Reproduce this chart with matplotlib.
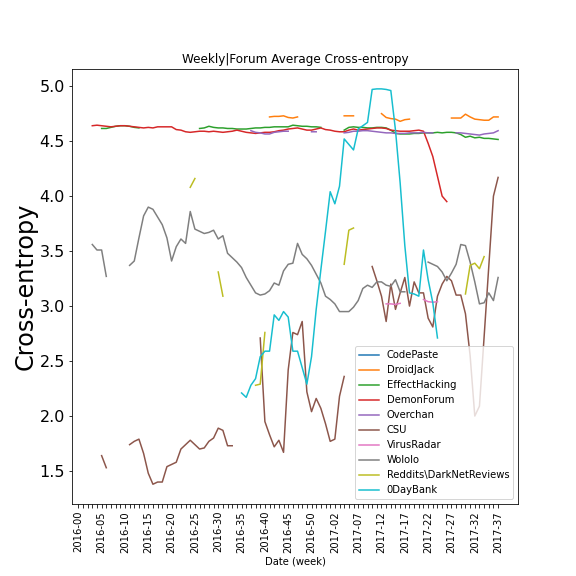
import matplotlib
matplotlib.use('Agg')
import matplotlib.pyplot as plt
import numpy as np

nan = np.nan

# x axis: one slot per week
WEEKS = ['2016-%02d' % w for w in range(53)] + ['2017-%02d' % w for w in range(38)]

FORUMS = ['CodePaste', 'DroidJack', 'EffectHacking', 'DemonForum', 'Overchan',
          'CSU', 'VirusRadar', 'Wololo', 'Reddits\\DarkNetReviews', '0DayBank']

# each series: list of (first week index, values)
codepaste = []

droidjack = [
    (41, [4.72, 4.725, 4.725, 4.73, 4.715, 4.71, 4.72]),
    (57, [4.73, 4.73, 4.73]),
    (65, [4.75, 4.715, 4.705, 4.70, 4.68, 4.695, 4.70]),
    (80, [4.71, 4.71, 4.71, 4.745, 4.72, 4.70, 4.695, 4.69, 4.69, 4.72, 4.72]),
]

effecthacking = [
    (5, [4.615, 4.615, 4.625, 4.635, 4.64, 4.64, 4.635, 4.625, 4.62]),
    (26, [4.615, 4.62, 4.635, 4.625, 4.62, 4.62, 4.615, 4.615, 4.61, 4.61,
          4.61, 4.615, 4.62, 4.62, 4.625, 4.625, 4.63, 4.63, 4.63, 4.63,
          4.645, 4.64, 4.635, 4.635, 4.63, 4.63, 4.625]),
    (57, [4.60, 4.625, 4.63, 4.625, 4.625, 4.62, 4.62, 4.625, 4.625, 4.62,
          4.60, 4.57, 4.565, 4.565, 4.565, 4.57, 4.57, 4.575, 4.575, 4.575,
          4.58, 4.575, 4.58, 4.58, 4.575, 4.56, 4.535, 4.545, 4.53, 4.535,
          4.525, 4.525, 4.52, 4.515]),
]

demonforum = [
    (3, [4.64, 4.645, 4.64, 4.635, 4.63, 4.635, 4.64, 4.64, 4.635, 4.63,
         4.625, 4.62, 4.625, 4.62, 4.63, 4.63, 4.63, 4.63, 4.605, 4.60,
         4.585, 4.58, 4.585, 4.59, 4.59, 4.585, 4.59, 4.585, 4.58, 4.585,
         4.59, 4.60, 4.59, 4.58, 4.575, 4.57, 4.575, 4.58, 4.58, 4.585,
         4.595, 4.60, 4.61, 4.615, 4.62, 4.61, 4.60, 4.60, 4.61, 4.62,
         4.605, 4.60, 4.59, 4.585, 4.585, 4.60, 4.61, 4.60, 4.605, 4.61,
         4.615, 4.62, 4.62, 4.615, 4.60, 4.595, 4.59, 4.59, 4.59, 4.595,
         4.60, 4.59, 4.48, 4.36, 4.18, 4.00, 3.95]),
]

overchan = [
    (37, [4.595, 4.58, 4.575, 4.565, 4.565, 4.58, 4.585, 4.59, 4.59]),
    (50, [4.585, 4.585]),
    (57, [4.575, 4.58, 4.59, 4.59, 4.595, 4.595, 4.59, 4.585, 4.58, 4.575,
          4.575, 4.57, 4.57, 4.57, 4.575, 4.575, 4.575, 4.58, 4.575, 4.575]),
    (81, [4.575, 4.575, 4.57, 4.565, 4.56, 4.555, 4.565, 4.57, 4.575, 4.595]),
]

csu = [
    (5, [1.64, 1.53]),
    (11, [1.74, 1.77, 1.79, 1.66, 1.48, 1.38, 1.40, 1.40, 1.54, 1.56,
          1.58, 1.70, 1.74, 1.78, 1.74, 1.70, 1.71, 1.77, 1.80, 1.89,
          1.87, 1.73, 1.73]),
    (39, [2.71, 1.95, 1.83, 1.72, 1.78, 1.67, 2.42, 2.76, 2.74, 2.86,
          2.22, 2.04, 2.16, 2.07, 1.93, 1.77, 1.79, 2.18, 2.36]),
    (63, [3.36, 3.23, 3.09, 2.86, 3.20, 2.97, 3.12, 3.26, 3.00, 3.22,
          3.12, 3.12, 2.89, 2.81, 3.09, 3.20, 3.27, 3.23, 3.10, 3.10,
          2.93, 2.55, 2.00, 2.09, 2.72, 3.36, 4.00, 4.17]),
]

virusradar = [
    (66, [3.02, 3.02, 3.015, 3.025]),
    (74, [3.06, 3.04, 3.035, 3.04]),
]

wololo = [
    (3, [3.56, 3.51, 3.51, 3.27]),
    (11, [3.37, 3.41, 3.62, 3.82, 3.90, 3.88, 3.81, 3.74, 3.62, 3.41,
          3.54, 3.61, 3.57, 3.86, 3.70, 3.68, 3.66, 3.67, 3.69, 3.61,
          3.64, 3.48, 3.44, 3.40, 3.35, 3.26, 3.19, 3.12, 3.10, 3.11,
          3.14, 3.21, 3.19, 3.32, 3.38, 3.39, 3.57, 3.47, 3.43, 3.37,
          3.29, 3.21, 3.09, 3.06, 3.02, 2.95, 2.95, 2.95, 2.99, 3.05,
          3.16, 3.19, 3.17, 3.22, 3.22, 3.19, 3.18, 3.24, 3.13, 3.13]),
    (75, [3.40, 3.38, 3.36, 3.31, 3.23, 3.30, 3.38, 3.56, 3.55, 3.40,
          3.22, 3.02, 3.03, 3.12, 3.05, 3.26]),
]

darknetreviews = [
    (24, [4.08, 4.16]),
    (30, [3.31, 3.09]),
    (38, [2.28, 2.29, 2.76]),
    (57, [3.38, 3.69, 3.71]),
    (83, [3.11, 3.37, 3.39, 3.34, 3.45]),
]

odaybank = [
    (35, [2.21, 2.17, 2.28, 2.34, 2.54, 2.59, 2.59, 2.92, 2.87, 2.95,
          2.90, 2.59, 2.59, 2.44, 2.29, 2.54, 2.97, 3.33, 3.68, 4.04,
          3.93, 4.09, 4.52, 4.47, 4.42, 4.61, 4.64, 4.67, 4.97, 4.975,
          4.975, 4.97, 4.96, 4.60, 4.12, 3.55, 3.12, 3.11, 3.09, 3.51,
          3.24, 3.03, 2.71]),
]

SERIES = [codepaste, droidjack, effecthacking, demonforum, overchan,
          csu, virusradar, wololo, darknetreviews, odaybank]


def to_weekly(segments):
    y = np.full(len(WEEKS), nan)
    for start, vals in segments:
        y[start:start + len(vals)] = vals
    return y


fig = plt.figure(figsize=(8, 8), dpi=72)
ax = fig.add_subplot(111)
fig.subplots_adjust(left=0.125, right=0.9, top=0.88, bottom=0.125)

x = np.arange(len(WEEKS))
for name, segs in zip(FORUMS, SERIES):
    ax.plot(x, to_weekly(segs), label=name)

ax.set_xticks(x)
ax.set_xticklabels([w if i % 5 == 0 else '' for i, w in enumerate(WEEKS)],
                   rotation=90, fontsize=10)
ax.tick_params(axis='y', labelsize=16)
ax.set_xlabel('Date (week)')
ax.set_ylabel('Cross-entropy', fontsize=24, labelpad=2)
ax.set_title('Weekly|Forum Average Cross-entropy')
ax.legend(loc='lower right')

fig.savefig('out.png', dpi=72)
